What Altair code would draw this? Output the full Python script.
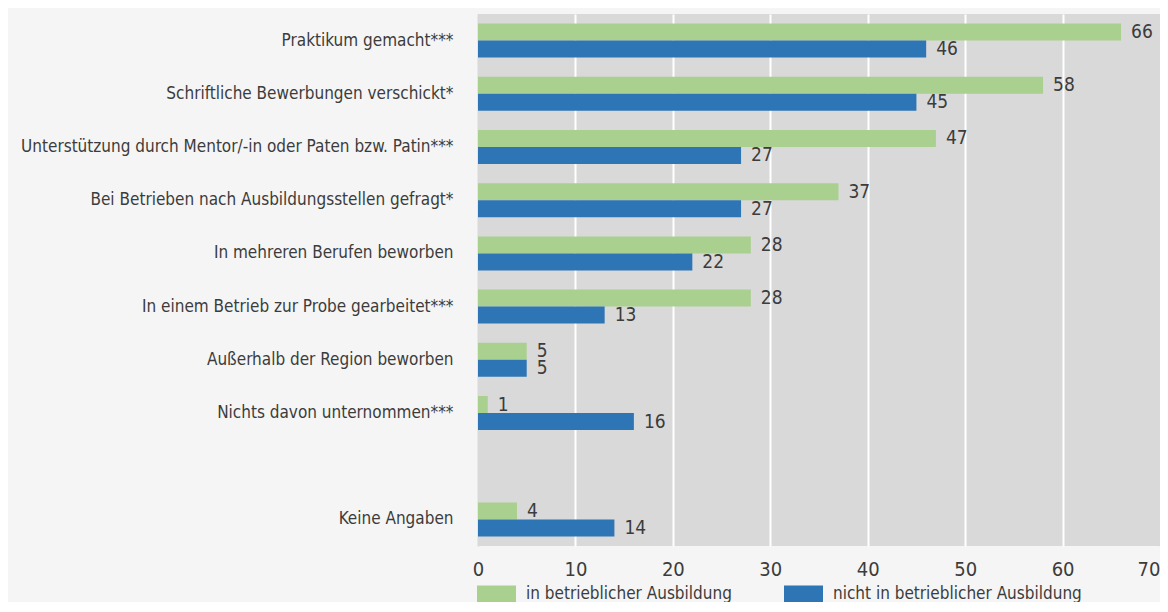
import altair as alt
import pandas as pd

categories = [
    "Praktikum gemacht***",
    "Schriftliche Bewerbungen verschickt*",
    "Unterstützung durch Mentor/-in oder Paten bzw. Patin***",
    "Bei Betrieben nach Ausbildungsstellen gefragt*",
    "In mehreren Berufen beworben",
    "In einem Betrieb zur Probe gearbeitet***",
    "Außerhalb der Region beworben",
    "Nichts davon unternommen***",
    "Keine Angaben",
]
in_betrieb = [66, 58, 47, 37, 28, 28, 5, 1, 4]
nicht_in_betrieb = [46, 45, 27, 27, 22, 13, 5, 16, 14]
series = ["in betrieblicher Ausbildung", "nicht in betrieblicher Ausbildung"]
colors = ["#a9d08e", "#2e75b6"]
x_ticks = [0, 10, 20, 30, 40, 50, 60, 70]
gap_label = " "

rows = []
for c, a, b in zip(categories, in_betrieb, nicht_in_betrieb):
    rows.append({"kat": c, "serie": series[0], "wert": a})
    rows.append({"kat": c, "serie": series[1], "wert": b})
df = pd.DataFrame(rows)
y_domain = categories[:8] + [gap_label] + categories[8:]

FONT = "DejaVu Sans Condensed, sans-serif"
TXT = "#3c3c3c"

y_enc = alt.Y(
    "kat:N",
    scale=alt.Scale(domain=y_domain, paddingInner=0.361, paddingOuter=0.18),
    axis=alt.Axis(title=None, domain=False, ticks=False, labelPadding=25,
                  labelFontSize=17, labelColor=TXT, labelFont=FONT, labelLimit=600),
)
x_enc = alt.X(
    "wert:Q",
    scale=alt.Scale(domain=[0, 70], nice=False),
    axis=alt.Axis(
        values=x_ticks, title=None, domain=False, ticks=False, grid=True,
        gridColor={"condition": {"test": "datum.value === 0 || datum.value === 70", "value": "#d9d9d9"}, "value": "#ffffff"},
        gridWidth=2, labelFontSize=20, labelPadding=13, labelColor=TXT, labelFont=FONT,
        labelAlign={"condition": {"test": "datum.value === 70", "value": "right"}, "value": "center"},
    ),
)
yoff = alt.YOffset("serie:N", scale=alt.Scale(domain=series))

bars = alt.Chart().mark_bar().encode(
    x=x_enc,
    y=y_enc,
    yOffset=yoff,
    color=alt.Color(
        "serie:N",
        scale=alt.Scale(domain=series, range=colors),
        legend=alt.Legend(
            orient="none", legendX=-1, legendY=560, direction="horizontal",
            title=None, symbolType="M-1,-0.436L1,-0.436L1,0.436L-1,0.436Z",
            symbolSize=1521, symbolStrokeWidth=0, labelFontSize=17, labelFont=FONT,
            labelColor=TXT, labelOffset=10, columnPadding=52, labelLimit=400,
            padding=0,
        ),
    ),
)

labels = alt.Chart().mark_text(
    align="left", baseline="middle", dx=10, fontSize=19, font=FONT, color=TXT
).encode(x="wert:Q", y=alt.Y("kat:N"), yOffset=yoff, text="wert:Q")

chart = alt.layer(bars, labels, data=df).properties(
    width=682, height=532,
    autosize=alt.AutoSizeParams(type="none"),
    padding={"left": 470, "top": 6, "right": 0, "bottom": 56},
    background="#f5f5f5",
).configure_view(fill="#d9d9d9", strokeWidth=0)

chart.save("out.html", embed_options={"renderer": "svg", "actions": False})
